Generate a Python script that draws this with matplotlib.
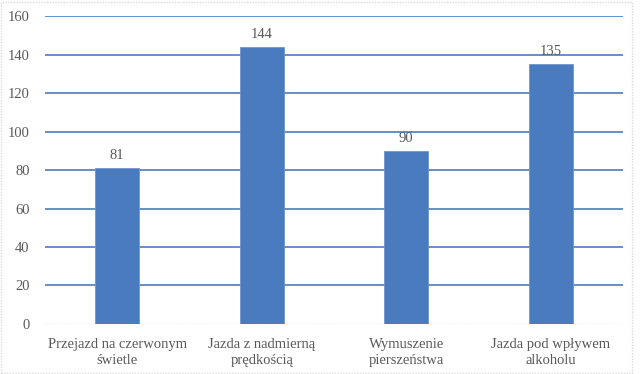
import matplotlib.pyplot as plt
from matplotlib.patches import Rectangle

categories = ['Przejazd na czerwonym\nświetle', 'Jazda z nadmierną\nprędkością',
              'Wymuszenie\npierszeństwa', 'Jazda pod wpływem\nalkoholu']
values = [81, 144, 90, 135]
yticks = [0, 20, 40, 60, 80, 100, 120, 140, 160]

plt.rcParams['font.family'] = ['Liberation Serif', 'DejaVu Serif']
txt = '#595959'

fig = plt.figure(figsize=(6.4, 3.74), dpi=100)
ax = fig.add_axes([0.0703, 0.1337, 0.903, 0.8235])

x = range(len(categories))
ax.bar(x, values, width=0.305, color='#4A7BBE', edgecolor='#6F95CC', linewidth=0.6, zorder=3)
for xi, v in zip(x, values):
    ax.text(xi, v + 3, str(v), ha='center', va='bottom', fontsize=10.5, color=txt, zorder=4)

ax.set_xlim(-0.5, len(categories) - 0.5)
ax.set_ylim(0, 160)
ax.set_yticks(yticks)
ax.set_xticks(list(x))
ax.set_xticklabels(categories, fontsize=10.5, color=txt, linespacing=1.3)
ax.tick_params(axis='y', labelsize=10.5, labelcolor=txt, length=0, pad=11)
ax.tick_params(axis='x', length=0, pad=10)

for t in yticks[1:]:
    ax.axhline(t, color='#4A7BBE', linewidth=1.2, zorder=1)
for s in ax.spines.values():
    s.set_visible(False)
ax.axhline(0, color='#BFBFBF', linewidth=1.0, linestyle=(0, (1, 1)), zorder=2)

fig.patches.append(Rectangle((0.002, 0.004), 0.986, 0.99, transform=fig.transFigure,
                             fill=False, edgecolor='#D9D9D9', linewidth=1.0,
                             linestyle=(0, (1, 1))))

fig.savefig('out.png', dpi=100)
